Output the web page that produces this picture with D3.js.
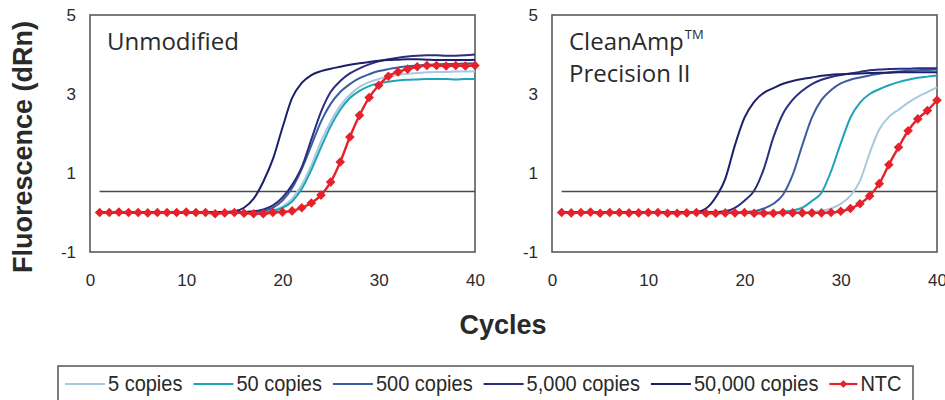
<!DOCTYPE html>
<html>
<head>
<meta charset="utf-8">
<script src="https://cdn.jsdelivr.net/npm/d3@7"></script>
<style>
  body { margin: 0; background: #fff; }
  text { font-family: "Liberation Sans", Arial, sans-serif; fill: #2a2a2a; }
  .ptitle { font-family: "Open Sans", sans-serif; }
</style>
</head>
<body>
<svg id="chart" width="945" height="400"></svg>
<script>
// qPCR amplification, cycle 1..40
var cycles = [1,2,3,4,5,6,7,8,9,10,11,12,13,14,15,16,17,18,19,20,21,22,23,24,25,26,27,28,29,30,31,32,33,34,35,36,37,38,39,40];
var seriesNames = ["5 copies", "50 copies", "500 copies", "5,000 copies", "50,000 copies", "NTC"];
var seriesColors = ["#a6c9df", "#1ea3b9", "#3b5c9f", "#2b2d7e", "#1d1f69", "#e5222b"];
var yTicks = [5, 3, 1, -1];
var xTicks = [0, 10, 20, 30, 40];
var threshold = 0.53;

// Unmodified panel
var unmod5 = [0.00,0.00,0.01,0.00,0.00,0.00,0.01,0.00,0.00,0.00,0.00,0.00,0.00,-0.01,0.00,0.00,0.01,
  0.02,0.06,0.15,0.35,0.70,1.20,1.80,2.30,2.70,2.98,3.18,3.30,3.38,3.44,3.48,3.51,3.53,3.55,3.56,3.56,3.57,3.57,3.57];
var unmod50 = [0.00,0.01,0.00,0.00,0.00,0.01,0.00,0.00,0.00,-0.01,0.00,0.00,0.00,0.00,0.00,0.00,0.00,
  0.01,0.04,0.12,0.28,0.60,1.08,1.65,2.18,2.60,2.90,3.08,3.20,3.27,3.31,3.34,3.36,3.37,3.38,3.38,3.38,3.37,3.38,3.38];
var unmod500 = [0.00,0.00,0.00,0.01,0.00,0.00,0.00,0.00,0.01,0.00,0.00,0.00,0.00,0.00,0.00,0.01,
  0.02,0.05,0.12,0.30,0.62,1.10,1.70,2.30,2.75,3.05,3.25,3.40,3.50,3.58,3.63,3.67,3.70,3.72,3.74,3.75,3.76,3.76,3.77,3.77];
var unmod5000 = [0.00,0.00,0.01,0.00,0.00,0.00,0.00,0.01,0.00,0.00,0.00,0.00,0.01,0.00,0.00,
  0.01,0.03,0.08,0.18,0.38,0.70,1.15,1.85,2.55,3.05,3.33,3.52,3.65,3.75,3.83,3.88,3.92,3.95,3.97,3.98,3.98,3.97,3.97,3.98,4.00];
var unmod50000 = [0.00,0.01,0.00,0.00,0.00,0.00,0.01,0.00,0.00,0.00,0.00,0.01,0.00,
  0.01,0.03,0.12,0.35,0.78,1.35,2.15,2.90,3.28,3.48,3.58,3.64,3.69,3.74,3.78,3.81,3.84,3.86,3.87,3.88,3.88,3.87,3.86,3.86,3.86,3.86,3.87];
var unmodNTC = [0.00,0.00,0.01,0.00,0.00,-0.01,0.00,0.00,0.00,0.01,0.00,0.00,-0.03,-0.01,0.00,-0.02,-0.03,-0.03,
  0.00,0.01,0.04,0.12,0.24,0.44,0.77,1.28,1.91,2.46,2.91,3.22,3.45,3.56,3.63,3.69,3.72,3.72,3.71,3.72,3.71,3.72];

// CleanAmp Precision II panel
var clean5 = [0.00,0.00,0.00,0.01,0.00,0.00,0.00,0.00,0.00,0.01,0.00,0.00,0.00,0.00,0.00,0.00,0.01,0.00,0.00,0.00,0.00,0.00,0.00,0.00,0.01,0.00,
  0.02,0.04,0.10,0.22,0.42,0.80,1.50,2.10,2.42,2.60,2.78,2.93,3.05,3.17];
var clean50 = [0.00,0.00,0.01,0.00,0.00,0.00,0.00,0.00,0.01,0.00,0.00,0.00,0.00,0.00,0.00,0.01,0.00,0.00,0.00,0.00,0.00,0.00,0.00,
  0.02,0.05,0.12,0.29,0.50,1.05,1.75,2.40,2.78,3.00,3.12,3.22,3.30,3.36,3.41,3.44,3.47];
var clean500 = [0.00,0.01,0.00,0.00,0.00,0.00,0.00,0.01,0.00,0.00,0.00,0.00,0.00,0.01,0.00,0.00,0.00,0.00,0.00,
  0.01,0.03,0.10,0.22,0.45,0.95,1.70,2.40,2.85,3.10,3.27,3.36,3.42,3.47,3.51,3.55,3.57,3.59,3.60,3.61,3.62];
var clean5000 = [0.00,0.00,0.00,0.01,0.00,0.00,0.00,0.00,0.00,0.00,0.01,0.00,0.00,0.00,0.00,0.00,
  0.01,0.03,0.12,0.30,0.55,1.10,1.90,2.50,2.85,3.08,3.25,3.36,3.43,3.48,3.52,3.56,3.60,3.62,3.63,3.64,3.64,3.65,3.65,3.65];
var clean50000 = [0.00,0.00,0.01,0.00,0.00,0.00,0.00,0.00,0.01,0.00,0.00,0.00,0.00,0.00,
  0.01,0.10,0.38,0.85,1.70,2.40,2.80,3.03,3.15,3.26,3.33,3.38,3.42,3.46,3.49,3.50,3.51,3.52,3.53,3.54,3.54,3.55,3.55,3.55,3.55,3.55];
var cleanNTC = [0.00,-0.01,0.00,0.01,-0.02,0.00,0.00,-0.01,-0.01,0.00,0.00,-0.02,-0.02,-0.01,0.00,-0.02,-0.02,-0.01,-0.01,0.00,-0.02,-0.02,-0.02,0.00,-0.01,-0.01,-0.01,-0.01,0.00,
  0.03,0.10,0.22,0.42,0.73,1.21,1.65,2.07,2.37,2.58,2.84];

var panels = [
  { left: 90, title: ["Unmodified"], tm: false, series: [unmod5, unmod50, unmod500, unmod5000, unmod50000, unmodNTC] },
  { left: 552, title: ["CleanAmp", "Precision II"], tm: true, series: [clean5, clean50, clean500, clean5000, clean50000, cleanNTC] }
];

var svg = d3.select("#chart");
var plotW = 385, plotTop = 15, plotBottom = 252;

panels.forEach(function(p) {
  var x = d3.scaleLinear().domain([0, 40]).range([p.left, p.left + plotW]);
  var y = d3.scaleLinear().domain([-1, 5]).range([plotBottom, plotTop]);
  var g = svg.append("g");

  // frame
  g.append("rect")
    .attr("x", x(0)).attr("y", y(5))
    .attr("width", x(40) - x(0)).attr("height", y(-1) - y(5))
    .attr("fill", "none").attr("stroke", "#5a5a5a").attr("stroke-width", 1.6);

  var ya = g.append("g").attr("transform", "translate(" + x(0) + ",0)")
    .call(d3.axisLeft(y).tickValues(yTicks).tickSize(0).tickPadding(14).tickFormat(function(d){ return String(d); }));
  ya.select(".domain").remove();
  ya.selectAll("text").style("font-size", "17px").attr("fill", "#2a2a2a");

  var xa = g.append("g").attr("transform", "translate(0," + y(-1) + ")")
    .call(d3.axisBottom(x).tickValues(xTicks).tickSize(0).tickPadding(22));
  xa.select(".domain").remove();
  xa.selectAll("text").style("font-size", "17px").attr("fill", "#2a2a2a");

  // threshold
  g.append("line")
    .attr("x1", x(1)).attr("x2", x(40))
    .attr("y1", y(threshold)).attr("y2", y(threshold))
    .attr("stroke", "#4a4a4a").attr("stroke-width", 1.5);

  var line = d3.line()
    .x(function(d, i){ return x(cycles[i]); })
    .y(function(d){ return y(d); })
    .curve(d3.curveMonotoneX);

  p.series.forEach(function(vals, k) {
    g.append("path")
      .datum(vals)
      .attr("d", line)
      .attr("fill", "none")
      .attr("stroke", seriesColors[k])
      .attr("stroke-width", k === 5 ? 2.4 : 2);
  });

  // NTC markers
  var ntc = p.series[5];
  g.selectAll("path.mk").data(ntc).enter().append("path")
    .attr("class", "mk")
    .attr("d", d3.symbol().type(d3.symbolSquare).size(46))
    .attr("transform", function(d, i){ return "translate(" + x(cycles[i]) + "," + y(d) + ") rotate(45)"; })
    .attr("fill", seriesColors[5]);

  // panel title
  var t = g.append("text").attr("class", "ptitle")
    .attr("x", p.left + 17).attr("y", 50)
    .style("font-size", "24px").attr("fill", "#222");
  t.text(p.title[0]);
  if (p.tm) {
    var tw = t.node().getComputedTextLength();
    g.append("text").attr("class", "ptitle")
      .attr("x", p.left + 17 + tw + 1).attr("y", 39)
      .style("font-size", "13px").attr("fill", "#222").text("TM");
  }
  if (p.title[1]) {
    g.append("text").attr("class", "ptitle")
      .attr("x", p.left + 17).attr("y", 82)
      .style("font-size", "24px").attr("fill", "#222").text(p.title[1]);
  }
});

// axis titles
svg.append("text")
  .attr("transform", "translate(32,147) rotate(-90)")
  .attr("text-anchor", "middle")
  .style("font-size", "27px").style("font-weight", "bold").attr("fill", "#111")
  .text("Fluorescence (dRn)");
svg.append("text")
  .attr("x", 503).attr("y", 334)
  .attr("text-anchor", "middle")
  .style("font-size", "27px").style("font-weight", "bold").attr("fill", "#111")
  .text("Cycles");

// legend
var leg = svg.append("g");
leg.append("rect")
  .attr("x", 58).attr("y", 366).attr("width", 855).attr("height", 40)
  .attr("fill", "none").attr("stroke", "#555").attr("stroke-width", 1.5);

var lx = 65, ly = 384;
seriesNames.forEach(function(name, k) {
  var len = k === 5 ? 28 : 40;
  leg.append("line")
    .attr("x1", lx).attr("x2", lx + len).attr("y1", ly).attr("y2", ly)
    .attr("stroke", seriesColors[k]).attr("stroke-width", 2.2);
  if (k === 5) {
    leg.append("path")
      .attr("d", d3.symbol().type(d3.symbolSquare).size(30))
      .attr("transform", "translate(" + (lx + len / 2) + "," + ly + ") rotate(45)")
      .attr("fill", seriesColors[k]);
  }
  var t = leg.append("text")
    .attr("x", lx + len + 3).attr("y", ly + 7)
    .attr("transform", "translate(0," + (ly + 7) + ") scale(1,1.08) translate(0," + (-(ly + 7)) + ")")
    .style("font-size", "20px").attr("fill", "#1a1a1a")
    .text(name);
  lx = lx + len + 3 + t.node().getComputedTextLength() + 11;
});
</script>
</body>
</html>
